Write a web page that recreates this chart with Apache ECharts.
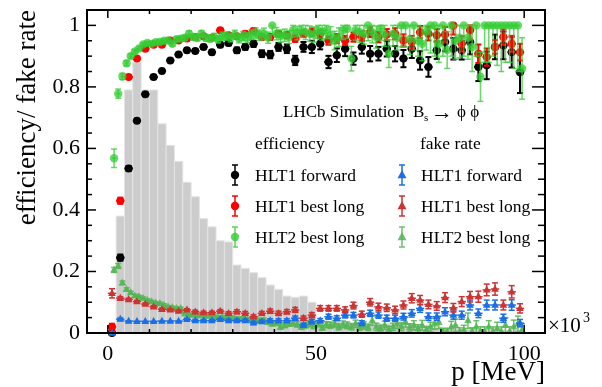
<!DOCTYPE html>
<html><head><meta charset="utf-8">
<script src="https://cdn.jsdelivr.net/npm/echarts@6/dist/echarts.min.js"></script>
<style>html,body{margin:0;padding:0;background:#fff}#c{width:602px;height:387px}</style>
</head><body><div id="c"></div>
<script>
// ---------------- data ----------------
const histEdges = [0,2,4,6,8,10,12,14,16,18,20,22,24,26,28,30,32,34,36,38,40,42,44,46,48,50,52,54,56,58,60,62,64,66,68,70,72,74,76,78,80,82,84,86,88,90,92,94,96,98,100];
const histValues = [0.0,0.38,0.79,0.88,0.79,0.79,0.68,0.61,0.558,0.49,0.443,0.372,0.345,0.30,0.296,0.221,0.21,0.196,0.18,0.156,0.142,0.12,0.116,0.12,0.10,0.04,0.038,0.036,0.035,0.034,0.033,0.032,0.03,0.03,0.028,0.037,0.03,0.026,0.026,0.016,0.015,0.014,0.013,0.012,0.011,0.01,0.01,0.009,0.008,0.008];

const binCenters2 = [1,3,5,7,9,11,13,15,17,19,21,23,25,27,29,31,33,35,37,39,41,43,45,47,49,51,53,55,57,59,61,63,65,67,69,71,73,75,77,79,81,83,85,87,89,91,93,95,97,99];
const binCenters1 = [1.5,2.5,3.5,4.5,5.5,6.5,7.5,8.5,9.5,10.5,11.5,12.5,13.5,14.5,15.5,16.5,17.5,18.5,19.5,20.5,21.5,22.5,23.5,24.5,25.5,26.5,27.5,28.5,29.5,30.5,31.5,32.5,33.5,34.5,35.5,36.5,37.5,38.5,39.5,40.5,41.5,42.5,43.5,44.5,45.5,46.5,47.5,48.5,49.5,50.5,51.5,52.5,53.5,54.5,55.5,56.5,57.5,58.5,59.5,60.5,61.5,62.5,63.5,64.5,65.5,66.5,67.5,68.5,69.5,70.5,71.5,72.5,73.5,74.5,75.5,76.5,77.5,78.5,79.5,80.5,81.5,82.5,83.5,84.5,85.5,86.5,87.5,88.5,89.5,90.5,91.5,92.5,93.5,94.5,95.5,96.5,97.5,98.5,99.5];

// efficiency
const effHlt1Fwd = [0,0.245,0.535,0.69,0.776,0.832,0.852,0.886,0.905,0.919,0.917,0.93,0.913,0.937,0.943,0.919,0.93,0.94,0.908,0.905,0.93,0.924,0.886,0.93,0.93,0.94,0.881,0.903,0.924,0.892,0.93,0.908,0.908,0.924,0.908,0.892,0.924,0.886,0.865,0.919,0.946,0.924,0.919,0.946,0.865,0.87,0.93,0.935,0.913,0.848];
const effHlt1FwdErr = [0,0.01,0.008,0.006,0.005,0.005,0.005,0.005,0.005,0.006,0.006,0.007,0.007,0.008,0.008,0.009,0.009,0.01,0.011,0.012,0.013,0.014,0.015,0.016,0.02,0.018,0.02,0.022,0.024,0.02,0.022,0.025,0.022,0.025,0.025,0.028,0.03,0.03,0.032,0.028,0.03,0.035,0.03,0.04,0.046,0.045,0.04,0.045,0.05,0.068];
const effHlt1Long = [0.02,0.43,0.832,0.892,0.924,0.937,0.937,0.951,0.951,0.957,0.962,0.965,0.96,0.984,0.968,0.965,0.973,0.982,0.962,0.962,0.973,0.968,0.957,0.973,0.978,0.973,0.951,0.957,0.951,0.962,0.965,0.978,0.962,0.97,0.973,0.951,0.946,0.978,0.973,0.968,0.97,1.0,0.94,0.984,0.908,0.897,0.93,0.962,0.94,0.913];
const effHlt1LongErr = [0.01,0.01,0.006,0.005,0.004,0.004,0.004,0.004,0.004,0.005,0.005,0.005,0.006,0.006,0.006,0.007,0.007,0.008,0.008,0.009,0.009,0.01,0.011,0.011,0.012,0.013,0.014,0.015,0.015,0.015,0.016,0.016,0.017,0.018,0.018,0.02,0.02,0.02,0.022,0.02,0.025,0.03,0.025,0.03,0.03,0.028,0.022,0.025,0.026,0.027];
const effHlt2Long = [0.568,0.778,0.834,0.877,0.900,0.915,0.925,0.938,0.943,0.940,0.945,0.946,0.950,0.951,0.940,0.955,0.957,0.960,0.973,0.962,0.960,0.973,0.960,0.957,0.962,0.955,0.965,0.965,0.960,0.970,0.958,0.965,0.960,0.970,0.975,0.968,0.973,0.960,1.000,0.973,0.965,0.968,0.962,0.984,0.975,0.984,0.978,0.973,0.970,0.984,0.978,0.984,0.968,0.951,0.962,0.984,0.989,0.892,0.984,0.978,0.973,1.000,0.978,0.962,0.989,0.970,0.908,0.973,0.960,1.000,1.000,0.955,1.000,0.950,0.940,0.980,1.000,1.000,0.940,1.000,0.920,1.000,0.950,0.960,1.000,0.960,0.930,1.000,0.833,1.000,1.000,1.000,1.000,1.000,1.000,1.000,1.000,1.000,0.860];
const effHlt2LongErr = [0.03,0.015,0.01,0.008,0.007,0.006,0.006,0.005,0.005,0.005,0.006,0.006,0.006,0.007,0.007,0.007,0.008,0.008,0.009,0.009,0.01,0.01,0.011,0.011,0.012,0.012,0.013,0.013,0.014,0.014,0.015,0.015,0.016,0.016,0.017,0.017,0.018,0.018,0.03,0.02,0.02,0.02,0.021,0.022,0.022,0.023,0.024,0.025,0.025,0.026,0.026,0.027,0.028,0.03,0.03,0.03,0.031,0.04,0.032,0.033,0.034,0.05,0.035,0.036,0.037,0.038,0.045,0.04,0.04,0.07,0.07,0.05,0.08,0.05,0.055,0.06,0.09,0.1,0.06,0.1,0.06,0.1,0.06,0.065,0.1,0.07,0.08,0.1,0.08,0.12,0.12,0.1,0.13,0.15,0.12,0.12,0.14,0.15,0.1];

// fake rate
const fakeHlt1Fwd = [0.0,0.045,0.039,0.038,0.038,0.038,0.039,0.039,0.039,0.044,0.04,0.04,0.04,0.044,0.04,0.04,0.04,0.033,0.037,0.04,0.04,0.04,0.048,0.026,0.037,0.04,0.053,0.048,0.058,0.058,0.032,0.064,0.058,0.048,0.048,0.053,0.064,0.08,0.053,0.053,0.069,0.058,0.058,0.091,0.064,0.091,0.091,0.048,0.091,0.032];
const fakeHlt1FwdErr = [0.004,0.004,0.003,0.003,0.003,0.003,0.003,0.003,0.003,0.004,0.004,0.004,0.004,0.004,0.005,0.005,0.005,0.005,0.005,0.006,0.006,0.006,0.007,0.006,0.007,0.007,0.008,0.008,0.009,0.009,0.008,0.01,0.01,0.01,0.01,0.011,0.012,0.013,0.012,0.012,0.013,0.013,0.013,0.016,0.014,0.016,0.016,0.013,0.017,0.012];
const fakeHlt1Long = [0.129,0.113,0.109,0.102,0.094,0.085,0.077,0.075,0.071,0.075,0.069,0.066,0.066,0.071,0.064,0.069,0.064,0.053,0.064,0.071,0.064,0.069,0.075,0.048,0.058,0.08,0.08,0.08,0.075,0.089,0.061,0.1,0.085,0.082,0.075,0.091,0.113,0.107,0.093,0.088,0.115,0.082,0.102,0.118,0.118,0.14,0.143,0.091,0.134,0.08];
const fakeHlt1LongErr = [0.015,0.005,0.004,0.004,0.004,0.004,0.004,0.004,0.004,0.004,0.005,0.005,0.005,0.005,0.005,0.006,0.006,0.006,0.006,0.007,0.007,0.007,0.008,0.007,0.008,0.009,0.009,0.009,0.01,0.011,0.01,0.012,0.012,0.012,0.012,0.013,0.015,0.015,0.014,0.014,0.016,0.014,0.016,0.017,0.018,0.019,0.02,0.016,0.02,0.015];
const fakeHlt2Long = [0.205,0.218,0.163,0.142,0.131,0.121,0.118,0.113,0.107,0.102,0.098,0.096,0.091,0.085,0.083,0.080,0.080,0.062,0.060,0.058,0.056,0.058,0.055,0.056,0.054,0.050,0.052,0.048,0.050,0.047,0.045,0.047,0.044,0.042,0.045,0.040,0.042,0.035,0.030,0.032,0.020,0.025,0.030,0.032,0.028,0.020,0.025,0.030,0.023,0.030,0.017,0.027,0.025,0.030,0.020,0.028,0.025,0.020,0.030,0.020,0.025,0.018,0.040,0.020,0.015,0.025,0.012,0.020,0.030,0.020,0.035,0.018,0.025,0.015,0.025,0.010,0.020,0.030,0.035,0.005,0.005,0.020,0.025,0.005,0.010,0.040,0.005,0.020,0.005,0.005,0.020,0.005,0.015,0.005,0.025,0.005,0.020,0.030,0.010];
const fakeHlt2LongErr = [0.008,0.008,0.006,0.005,0.005,0.005,0.004,0.004,0.004,0.004,0.004,0.004,0.004,0.004,0.004,0.004,0.004,0.004,0.004,0.004,0.005,0.005,0.005,0.005,0.005,0.005,0.005,0.005,0.006,0.006,0.006,0.006,0.006,0.006,0.007,0.007,0.007,0.007,0.007,0.007,0.008,0.008,0.008,0.009,0.009,0.008,0.009,0.01,0.009,0.01,0.008,0.01,0.01,0.011,0.01,0.011,0.011,0.01,0.012,0.011,0.012,0.01,0.015,0.012,0.01,0.013,0.01,0.012,0.015,0.013,0.016,0.012,0.015,0.012,0.016,0.01,0.015,0.018,0.02,0.01,0.01,0.018,0.02,0.012,0.015,0.025,0.012,0.02,0.015,0.015,0.02,0.015,0.02,0.015,0.025,0.015,0.022,0.025,0.02];

// axis ticks
const xMajorTicks = [0,50,100];
const xMinorTicks = [10,20,30,40,60,70,80,90];
const yMajorTicks = [0,0.2,0.4,0.6,0.8,1.0];
const yMinorTicks = [0.05,0.1,0.15,0.25,0.3,0.35,0.45,0.5,0.55,0.65,0.7,0.75,0.85,0.9,0.95];
const X_MIN = -5, X_MAX = 105, Y_MIN = 0, Y_MAX = 1.05;

// ---------------- chart ----------------
const FONT = '"Liberation Serif","Times New Roman",serif';
const chart = echarts.init(document.getElementById('c'), null, {renderer:'canvas'});

function pointSeries(name, xs, ys, errs, halfW, color, shape, size, opacity, lw, z) {
  return {
    type:'custom', name, z, clip:false,
    data: xs.map((x,i)=>[x, ys[i], errs[i]]),
    renderItem: (params, api) => {
      const x=api.value(0), y=api.value(1), e=api.value(2);
      const c=api.coord([x,y]);
      const top=api.coord([x, Math.min(y+e, 1)]);
      const bot=api.coord([x, Math.max(y-e, 0)]);
      const l=api.coord([x-halfW,y]), r=api.coord([x+halfW,y]);
      const st={stroke:color, lineWidth:lw, opacity};
      const ch=[];
      if (e>0) {
        ch.push({type:'line', shape:{x1:c[0],y1:top[1],x2:c[0],y2:bot[1]}, style:st});
        if (top[1] < c[1]-1) ch.push({type:'line', shape:{x1:c[0]-3,y1:top[1],x2:c[0]+3,y2:top[1]}, style:st});
        ch.push({type:'line', shape:{x1:c[0]-3,y1:bot[1],x2:c[0]+3,y2:bot[1]}, style:st});
      }
      ch.push({type:'line', shape:{x1:l[0],y1:c[1],x2:r[0],y2:c[1]}, style:st});
      if (shape==='circle') ch.push({type:'circle', shape:{cx:c[0],cy:c[1],r:size}, style:{fill:color, opacity}});
      else ch.push({type:'polygon', shape:{points:[[c[0],c[1]-size*1.15],[c[0]+size,c[1]+size*0.7],[c[0]-size,c[1]+size*0.7]]}, style:{fill:color, opacity}});
      return {type:'group', children:ch};
    }
  };
}

const histSeries = {
  type:'custom', name:'p distribution', z:1,
  data: histValues.map((v,i)=>[histEdges[i], histEdges[i+1], v]),
  renderItem: (params, api) => {
    const a=api.coord([api.value(0), api.value(2)]);
    const b=api.coord([api.value(1), 0]);
    return {type:'rect', shape:{x:a[0], y:a[1], width:b[0]-a[0], height:b[1]-a[1]},
      style:{fill:'#cccccc', stroke:'#e4e4e4', lineWidth:1}};
  }
};

const tickData = [].concat(
  xMajorTicks.map(v=>[v,0]), xMinorTicks.map(v=>[v,1]),
  yMajorTicks.map(v=>[v,2]), yMinorTicks.map(v=>[v,3]));
const tickSeries = {
  type:'custom', name:'ticks', z:30, clip:false, silent:true,
  data: tickData,
  renderItem: (params, api) => {
    const v=api.value(0), t=api.value(1);
    const st={stroke:'#000', lineWidth:1.5};
    if (t<2) {
      const len = t===0 ? 8 : 4;
      const b=api.coord([v, Y_MIN]), tp=api.coord([v, Y_MAX]);
      return {type:'group', children:[
        {type:'line', shape:{x1:b[0],y1:b[1],x2:b[0],y2:b[1]-len}, style:st},
        {type:'line', shape:{x1:tp[0],y1:tp[1],x2:tp[0],y2:tp[1]+len}, style:st}]};
    } else {
      const lenL = t===2 ? 9 : 5, lenR = t===2 ? 13 : 7;
      const l=api.coord([X_MIN, v]), r=api.coord([X_MAX, v]);
      return {type:'group', children:[
        {type:'line', shape:{x1:l[0],y1:l[1],x2:l[0]+lenL,y2:l[1]}, style:st},
        {type:'line', shape:{x1:r[0],y1:r[1],x2:r[0]-lenR,y2:r[1]}, style:st}]};
    }
  }
};

const C = {
  black:'#000000', red:'#ff0000', green:'#33cc33',
  blue:'#1a6ee6', dred:'#cc3333', lgreen:'#55b555'
};

// legend drawing helpers (icons only)
function legendIcon(x, y, color, shape, opacity) {
  const st={stroke:color, lineWidth:1.5, opacity};
  const ch=[
    {type:'line', shape:{x1:x,y1:y-10,x2:x,y2:y+10}, style:st},
    {type:'line', shape:{x1:x-3,y1:y-10,x2:x+3,y2:y-10}, style:st},
    {type:'line', shape:{x1:x-3,y1:y+10,x2:x+3,y2:y+10}, style:st}
  ];
  if (shape==='circle') ch.push({type:'circle', shape:{cx:x,cy:y,r:4.2}, style:{fill:color, opacity}});
  else ch.push({type:'polygon', shape:{points:[[x,y-5],[x+4.5,y+3.2],[x-4.5,y+3.2]]}, style:{fill:color, opacity}});
  return {type:'group', children:ch, z:40};
}
function txt(text, x, y, size, align) {
  return {type:'text', x, y, z:40, style:{text, font:size+'px '+FONT, fill:'#000', textAlign:align||'left', textVerticalAlign:'middle'}};
}

const graphics = [
  // axis titles
  {type:'text', x:28, y:10, rotation:Math.PI/2, z:40,
   style:{text:'efficiency/ fake rate', font:'27px '+FONT, fill:'#000', textAlign:'right', textVerticalAlign:'middle'}},
  txt('p [MeV]', 545, 373, 27, 'right'),
  txt('×10', 548, 326, 21),
  txt('3', 583, 318, 14),
  // legend header
  txt('LHCb Simulation', 283, 113, 17),
  txt('B', 413, 113, 17),
  txt('s', 424, 118, 11),
  txt('→', 431, 113, 22),
  txt('ϕ ϕ', 457, 113, 17),
  txt('efficiency', 255, 144, 17.5),
  txt('fake rate', 420, 144, 17.5),
  legendIcon(235, 175, C.black, 'circle', 1), txt('HLT1 forward', 255, 176, 17.5),
  legendIcon(235, 206, C.red, 'circle', 1), txt('HLT1 best long', 255, 207, 17.5),
  legendIcon(235, 237, C.green, 'circle', 0.8), txt('HLT2 best long', 255, 238, 17.5),
  legendIcon(402, 175, C.blue, 'tri', 1), txt('HLT1 forward', 421, 176, 17.5),
  legendIcon(402, 206, C.dred, 'tri', 1), txt('HLT1 best long', 421, 207, 17.5),
  legendIcon(402, 237, C.lgreen, 'tri', 0.85), txt('HLT2 best long', 421, 238, 17.5)
];

const option = {
  animation:false,
  backgroundColor:'#ffffff',
  grid:{left:87, top:10, right:57, bottom:54, show:true, z:25, borderColor:'#000', borderWidth:2, backgroundColor:'rgba(0,0,0,0)'},
  xAxis:{type:'value', min:X_MIN, max:X_MAX, interval:5,
    axisLine:{show:false}, axisTick:{show:false}, splitLine:{show:false},
    axisLabel:{fontFamily:FONT, fontSize:22, color:'#000', margin:10,
      formatter:v=>(xMajorTicks.indexOf(v)>=0 ? String(v) : '')}},
  yAxis:{type:'value', min:Y_MIN, max:Y_MAX, interval:0.05,
    axisLine:{show:false}, axisTick:{show:false}, splitLine:{show:false},
    axisLabel:{fontFamily:FONT, fontSize:22, color:'#000', margin:7,
      formatter:v=>{ const m = yMajorTicks.find(t=>Math.abs(t-v)<1e-6); return m===undefined ? '' : String(m); }}},
  series:[
    histSeries,
    pointSeries('eff HLT1 forward', binCenters2, effHlt1Fwd, effHlt1FwdErr, 1, C.black, 'circle', 4, 1, 2, 3),
    pointSeries('eff HLT1 best long', binCenters2, effHlt1Long, effHlt1LongErr, 1, C.red, 'circle', 4, 1, 2, 4),
    pointSeries('eff HLT2 best long', binCenters1, effHlt2Long, effHlt2LongErr, 0.5, C.green, 'circle', 4.2, 0.75, 1.5, 5),
    pointSeries('fake HLT2 best long', binCenters1, fakeHlt2Long, fakeHlt2LongErr, 0.5, C.lgreen, 'tri', 3.8, 0.85, 1.5, 6),
    pointSeries('fake HLT1 forward', binCenters2, fakeHlt1Fwd, fakeHlt1FwdErr, 1, C.blue, 'tri', 3.8, 1, 1.5, 7),
    pointSeries('fake HLT1 best long', binCenters2, fakeHlt1Long, fakeHlt1LongErr, 1, C.dred, 'tri', 3.8, 1, 1.5, 8),
    tickSeries
  ],
  graphic: graphics
};
chart.setOption(option);
</script>
</body></html>
